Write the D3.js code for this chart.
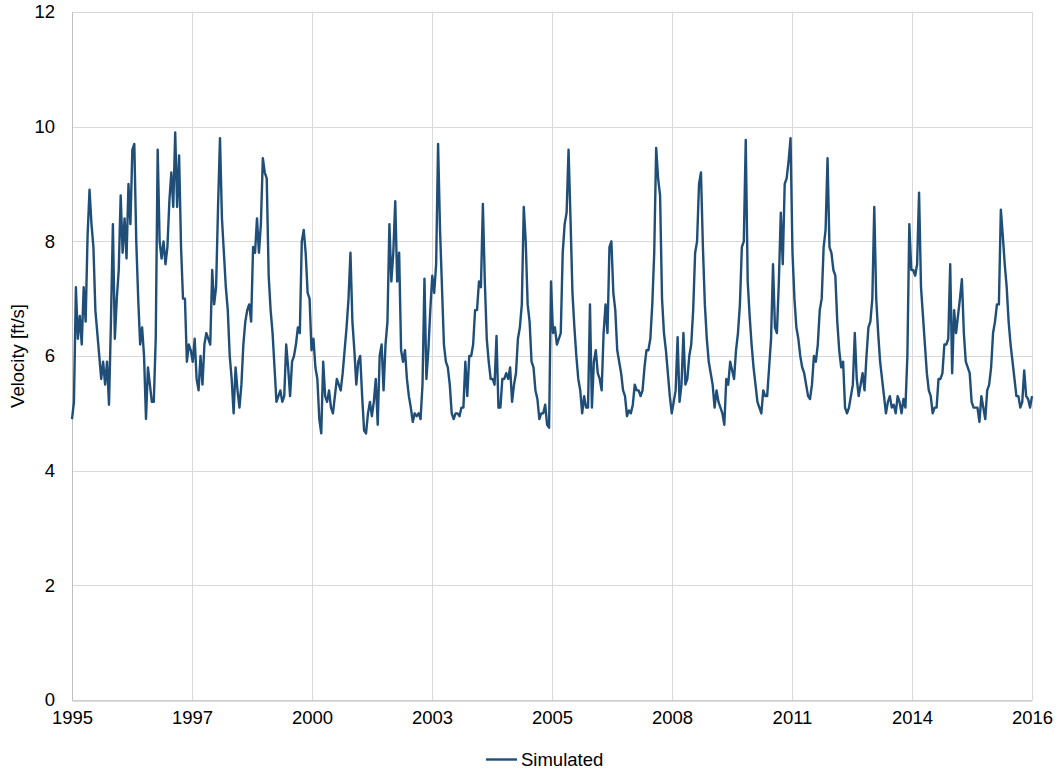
<!DOCTYPE html>
<html><head><meta charset="utf-8">
<script src="https://cdn.jsdelivr.net/npm/d3@7"></script>
<style>body{margin:0;background:#fff}svg{display:block}text{font-family:"Liberation Sans",Arial,sans-serif}</style>
</head><body><svg id="chart" width="1060" height="773"></svg>
<script>
const seriesName = "Simulated";
const yAxisTitle = "Velocity [ft/s]";
const startDate = "1995-02-14";
const stepDays = 16;
const velocity = [
4.9,5.2,7.2,6.3,6.7,6.2,7.2,6.6,8.1,8.9,
8.3,7.9,6.8,6.4,6.0,5.6,5.9,5.5,5.9,5.15,
6.6,8.3,6.3,7.0,7.5,8.8,7.8,8.4,7.7,9.0,
8.3,9.6,9.7,8.0,7.0,6.2,6.5,6.0,4.9,5.8,
5.5,5.2,5.2,6.3,9.6,8.0,7.7,8.0,7.6,7.9,
8.7,9.2,8.6,9.9,8.6,9.5,7.9,7.0,7.0,5.9,
6.2,6.1,5.9,6.3,5.6,5.4,6.0,5.5,6.2,6.4,
6.3,6.2,7.5,6.9,7.2,8.6,9.8,8.4,7.8,7.2,
6.8,6.0,5.6,5.0,5.8,5.4,5.1,5.5,6.2,6.6,
6.8,6.9,6.6,7.9,7.8,8.4,7.8,8.3,
9.45,9.2,9.1,7.4,6.8,6.4,5.8,5.2,5.3,5.4,
5.2,5.3,6.2,5.8,5.3,5.9,6.0,6.2,6.5,6.4,
8.0,8.2,7.8,7.1,7.0,6.1,6.3,5.8,5.6,4.9,
4.65,5.9,5.3,5.2,5.4,5.1,5.0,5.3,5.6,5.5,
5.4,5.7,6.1,6.5,7.0,7.8,6.6,6.1,5.5,5.9,
6.0,
5.3,4.7,4.65,5.0,5.2,4.95,5.2,5.6,4.8,6.0,
6.2,5.4,6.2,6.6,8.3,7.3,7.8,8.7,7.3,7.8,
6.1,5.9,6.1,5.6,5.3,5.1,4.85,5.0,4.95,5.0,
4.9,5.5,7.35,5.6,6.1,6.8,7.4,7.1,7.6,9.7,
8.2,7.2,6.2,5.9,5.8,5.5,5.0,4.9,5.0,
5.0,4.95,5.1,5.1,5.9,5.3,6.0,6.0,6.2,6.8,
6.8,7.3,7.2,8.65,7.3,6.3,5.9,5.6,5.6,5.5,
6.35,5.1,5.1,5.6,5.6,5.7,5.6,5.8,5.2,5.5,
5.7,6.3,6.5,6.9,8.6,8.0,6.9,6.6,5.9,5.8,
5.4,5.25,4.9,5.0,5.0,5.15,4.8,4.75,7.3,
6.4,6.5,6.2,6.3,6.4,7.8,8.3,8.5,9.6,8.4,
7.1,6.5,6.0,5.6,5.4,5.0,5.3,5.1,5.1,6.9,
5.1,5.9,6.1,5.7,5.6,5.4,6.4,6.9,6.4,7.9,
8.0,7.1,6.8,6.1,5.9,5.7,5.4,5.3,4.95,5.05,
5.0,5.15,5.5,5.4,5.4,5.3,5.4,5.8,6.1,
6.1,6.3,6.9,7.8,9.63,9.1,8.8,7.0,6.4,6.1,
5.7,5.3,5.0,5.2,5.4,6.33,5.2,5.5,6.4,5.5,
5.6,6.0,6.2,6.8,7.8,8.0,9.0,9.2,7.9,6.9,
6.3,5.9,5.7,5.5,5.1,5.4,5.2,5.1,5.0,4.8,
5.6,5.5,5.9,5.75,5.6,6.1,6.4,6.9,7.9,
8.0,9.77,7.3,6.7,6.2,5.8,5.5,5.2,5.1,5.0,
5.4,5.3,5.3,5.8,6.3,7.6,6.5,6.4,7.3,8.5,
7.6,9.0,9.1,9.4,9.8,7.8,7.0,6.5,6.3,6.0,
5.8,5.7,5.5,5.3,5.25,5.5,6.0,5.9,6.2,6.8,
7.0,7.9,8.2,9.45,7.9,7.8,7.5,7.4,6.6,
6.1,5.8,5.9,5.1,5.0,5.1,5.3,5.5,6.4,5.6,
5.3,5.5,5.7,5.4,6.0,6.5,6.6,7.0,8.6,7.0,
6.4,5.9,5.6,5.3,5.0,5.2,5.3,5.1,5.15,5.0,
5.3,5.2,5.0,5.25,5.1,6.0,8.3,7.5,7.5,7.4,
7.6,8.85,7.2,6.7,6.2,5.7,5.4,5.3,5.0,
5.1,5.1,5.6,5.6,5.7,6.2,6.2,6.3,7.6,5.7,
6.8,6.4,6.7,7.0,7.34,6.4,5.9,5.8,5.7,5.2,
5.1,5.1,5.1,4.85,5.3,5.1,4.9,5.4,5.5,5.8,
6.4,6.6,6.9,6.9,8.55,8.1,7.6,7.2,6.6,6.2,
5.9,5.6,5.3,5.3,5.1,5.2,5.75,5.3,5.25,5.1,
5.3
];
const yTicks = [0, 2, 4, 6, 8, 10, 12];
const xTickLabels = ["1995", "1997", "2000", "2003", "2005", "2008", "2011", "2014", "2016"];
const xTickStepDays = 986;

const W = 1060, H = 773;
const plot = {left: 72, right: 1032, top: 12, bottom: 700};
const lineColor = "#1F4E79";
const gridColor = "#d9d9d9";
const fontSize = 18.5;

const svg = d3.select("#chart");
const start = d3.utcParse("%Y-%m-%d")(startDate);
const dates = velocity.map((v, i) => d3.utcDay.offset(start, i * stepDays));
const data = velocity.map((v, i) => ({date: dates[i], value: v}));

const x = d3.scaleUtc()
  .domain([start, d3.utcDay.offset(start, (velocity.length - 1) * stepDays)])
  .range([plot.left, plot.right]);
const y = d3.scaleLinear().domain([0, 12]).range([plot.bottom, plot.top]);
const xTickDates = xTickLabels.map((_, k) => d3.utcDay.offset(start, k * xTickStepDays));

// gridlines
const g = svg.append("g");
g.selectAll("line.hg").data(yTicks).join("line")
  .attr("x1", plot.left).attr("x2", plot.right)
  .attr("y1", d => Math.round(y(d)) + 0.5).attr("y2", d => Math.round(y(d)) + 0.5)
  .attr("stroke", gridColor).attr("stroke-width", 1);
g.selectAll("line.vg").data(xTickDates).join("line")
  .attr("x1", d => Math.round(x(d)) + 0.5).attr("x2", d => Math.round(x(d)) + 0.5)
  .attr("y1", plot.top).attr("y2", plot.bottom)
  .attr("stroke", gridColor).attr("stroke-width", 1);

// axes
const yAxis = d3.axisLeft(y).tickValues(yTicks).tickSize(0).tickPadding(17).tickFormat(d3.format("d"));
const yg = svg.append("g").attr("transform", `translate(${plot.left},0)`).call(yAxis);
yg.select(".domain").attr("stroke", "#bfbfbf");
yg.selectAll("text").attr("font-size", fontSize).attr("fill", "#000").attr("font-family", '"Liberation Sans",Arial,sans-serif');

const xAxis = d3.axisBottom(x).tickValues(xTickDates).tickSize(0).tickPadding(10)
  .tickFormat((d, i) => xTickLabels[i]);
const xg = svg.append("g").attr("transform", `translate(0,${plot.bottom + 0.5})`).call(xAxis);
xg.select(".domain").attr("stroke", "#bfbfbf");
xg.selectAll("text").attr("font-size", fontSize).attr("fill", "#000").attr("font-family", '"Liberation Sans",Arial,sans-serif');

// series
const line = d3.line().x(d => x(d.date)).y(d => y(d.value));
svg.append("path").datum(data)
  .attr("fill", "none").attr("stroke", lineColor).attr("stroke-width", 2.4)
  .attr("stroke-linejoin", "round").attr("d", line);

// y title
svg.append("text")
  .attr("transform", `translate(24,${(plot.top + plot.bottom) / 2}) rotate(-90)`)
  .attr("text-anchor", "middle").attr("font-size", fontSize).attr("fill", "#000")
  .text(yAxisTitle);

// legend
const lg = svg.append("g").attr("transform", "translate(486,759.5)");
lg.append("line").attr("x1", 0).attr("x2", 31).attr("y1", 0).attr("y2", 0)
  .attr("stroke", lineColor).attr("stroke-width", 2.4);
lg.append("text").attr("x", 35).attr("y", 0).attr("dy", "0.35em")
  .attr("font-size", fontSize).attr("fill", "#000").text(seriesName);
</script></body></html>
